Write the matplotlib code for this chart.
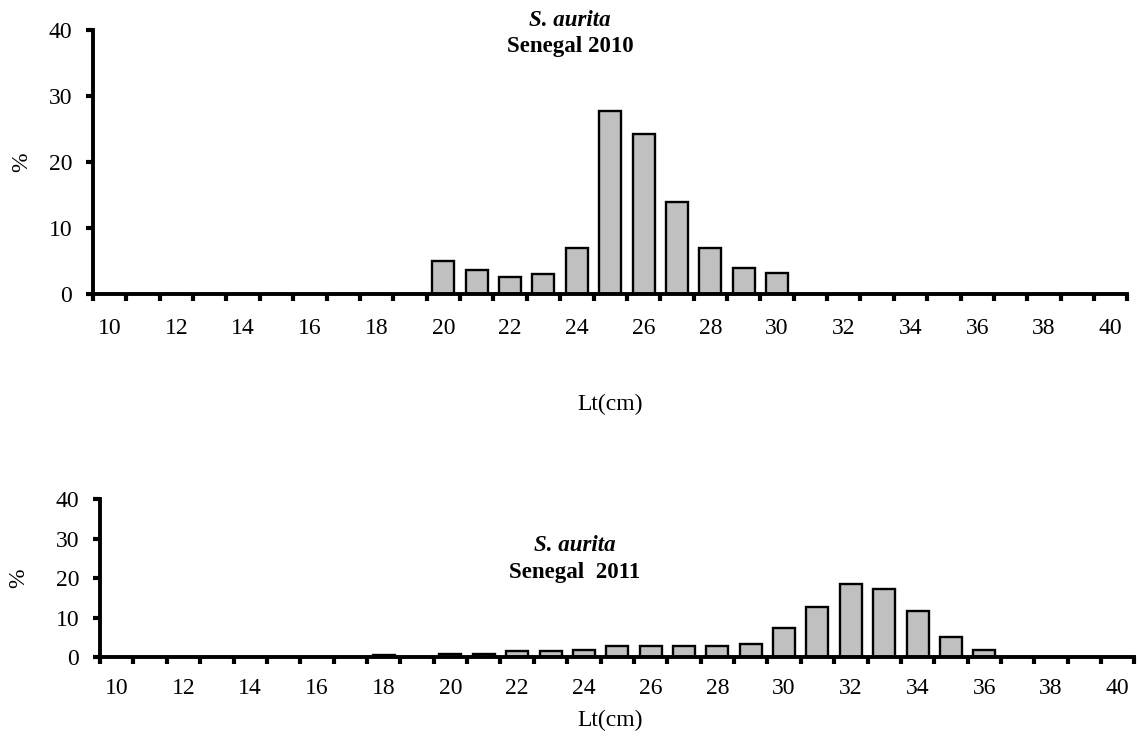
import matplotlib
matplotlib.use("Agg")
import matplotlib.pyplot as plt
import numpy as np

plt.rcParams['font.family'] = ['Liberation Serif', 'DejaVu Serif']

lengths = list(range(10, 41))
tick_labels = [str(v) for v in range(10, 41, 2)]
y_ticks = [0, 10, 20, 30, 40]

# percentage per 1 cm length class (Lt), 10..40 cm
pct_2010 = [0, 0, 0, 0, 0, 0, 0, 0, 0, 0,
            5.0, 3.6, 2.6, 3.0, 7.0, 27.7, 24.2, 13.9, 7.0, 3.9, 3.2,
            0, 0, 0, 0, 0, 0, 0, 0, 0, 0]
pct_2011 = [0, 0, 0, 0, 0, 0, 0, 0, 0.5, 0,
            0.8, 0.8, 1.5, 1.5, 1.9, 2.8, 2.8, 2.8, 2.8, 3.4, 7.4,
            12.6, 18.5, 17.2, 11.7, 5.0, 1.8, 0, 0, 0, 0]

TICK_FS = 17
TEXT_FS = 16.5

fig = plt.figure(figsize=(11.38, 7.45), dpi=100)
ax1 = fig.add_axes([0.0817, 0.6054, 0.909, 0.3543])
ax2 = fig.add_axes([0.0879, 0.1181, 0.909, 0.2121])


def style(ax, values, xpad):
    ax.bar(lengths, values, width=0.66,
           color='#c0c0c0', edgecolor='black', linewidth=1.7, zorder=2)
    ax.set_xlim(9.5, 40.5)
    ax.set_ylim(0, 40)
    for s in ('top', 'right'):
        ax.spines[s].set_visible(False)
    for s in ('left', 'bottom'):
        ax.spines[s].set_linewidth(2.8)
        ax.spines[s].set_zorder(3)
    ax.set_xticks(list(range(10, 41, 2)))
    ax.set_xticklabels(tick_labels, fontsize=TICK_FS)
    ax.set_xticks(np.arange(9.5, 41, 1), minor=True)
    ax.tick_params(axis='x', which='major', length=0, pad=xpad)
    ax.tick_params(axis='x', which='minor', length=5, width=3, direction='out')
    ax.set_yticks(y_ticks)
    ax.set_yticklabels([str(v) for v in y_ticks], fontsize=TICK_FS)
    ax.tick_params(axis='y', length=5, width=3, direction='out', pad=10)


style(ax1, pct_2010, 17)
style(ax2, pct_2011, 15)

ax1.set_ylabel('%', fontsize=TICK_FS, labelpad=12)
ax2.set_ylabel('%', fontsize=TICK_FS, labelpad=19)

fig.text(0.501, 0.973, 'S. aurita', ha='center', va='center', fontsize=TEXT_FS,
         fontweight='bold', fontstyle='italic')
fig.text(0.501, 0.937, 'Senegal 2010', ha='center', va='center', fontsize=TEXT_FS,
         fontweight='bold')
fig.text(0.505, 0.268, 'S. aurita', ha='center', va='center', fontsize=TEXT_FS,
         fontweight='bold', fontstyle='italic')
fig.text(0.505, 0.231, 'Senegal  2011', ha='center', va='center', fontsize=TEXT_FS,
         fontweight='bold')

fig.text(0.536, 0.457, 'Lt(cm)', ha='center', va='center', fontsize=TICK_FS)
fig.text(0.536, 0.033, 'Lt(cm)', ha='center', va='center', fontsize=TICK_FS)

fig.savefig('out.png', dpi=100)
